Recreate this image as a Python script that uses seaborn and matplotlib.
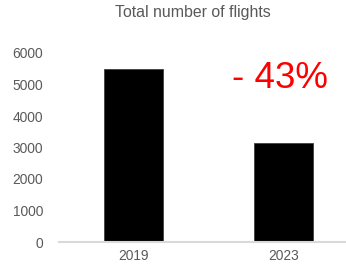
import matplotlib
matplotlib.use("Agg")
import matplotlib.pyplot as plt
import seaborn as sns
import pandas as pd

# Données
annees = ["2019", "2023"]
vols = [5500, 3130]
variation = "- 43%"

df = pd.DataFrame({"annee": annees, "vols": vols})

sns.set_style("white")
plt.rcParams["font.family"] = ["Liberation Sans", "DejaVu Sans"]

fig = plt.figure(figsize=(3.46, 2.68), dpi=100)
ax = fig.add_axes([58.5 / 346, 26 / 268, 1 - 58.5 / 346, 189 / 268])

# 1. Barres
sns.barplot(ax=ax, data=df, x="annee", y="vols", color="black", width=0.39,
            saturation=1, edgecolor="#404040", linewidth=0.6)

# 2. Axes
ax.set_ylim(0, 6000)
ax.set_xlim(-0.5, 1.4167)
ax.set_yticks(range(0, 6001, 1000))
ax.set_xlabel("")
ax.set_ylabel("")
ax.tick_params(axis="both", length=0, colors="#595959", labelsize=9.9)
ax.tick_params(axis="y", pad=11)
ax.tick_params(axis="x", pad=5)
for s in ["top", "right", "left"]:
    ax.spines[s].set_visible(False)
ax.spines["bottom"].set_color("#d9d9d9")
ax.spines["bottom"].set_linewidth(1.5)

# 3. Titre et variation
fig.text(0.557, 1 - 13 / 268, "Total number of flights", ha="center", va="center",
         fontsize=11.4, color="#595959")
ax.text(0.977, 5180, variation, ha="center", va="center", fontsize=26.5, color="red")

plt.savefig("out.png", dpi=100)
